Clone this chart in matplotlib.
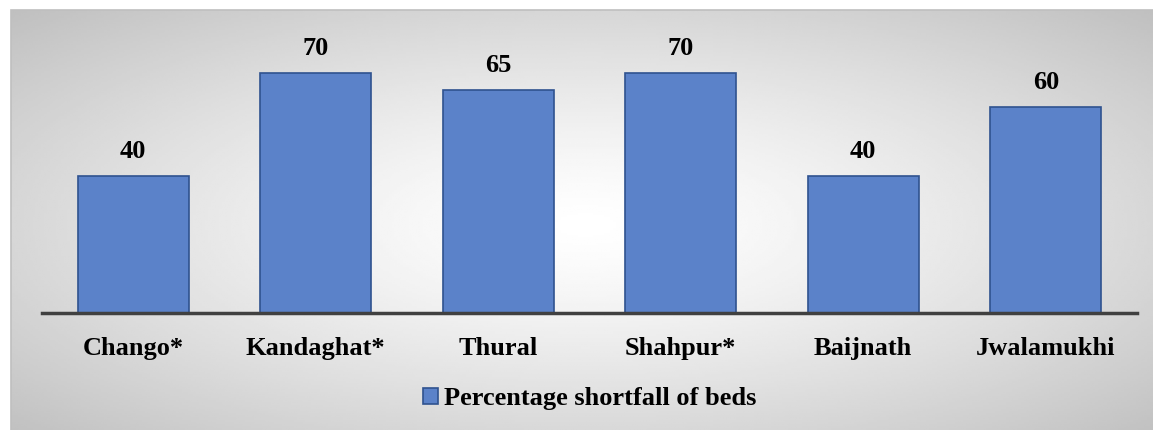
import matplotlib.pyplot as plt
import numpy as np
from matplotlib.patches import Rectangle

# data
categories = ["Chango*", "Kandaghat*", "Thural", "Shahpur*", "Baijnath", "Jwalamukhi"]
values = [40, 70, 65, 70, 40, 60]
series_name = "Percentage shortfall of beds"

plt.rcParams['font.family'] = ['Liberation Serif', 'DejaVu Serif']
plt.rcParams['font.weight'] = 'bold'

W, H = 1153, 430
fig = plt.figure(figsize=(W / 100, H / 100), dpi=100)

# radial gradient background; chart frame runs off the right and bottom edges
fx0, fy0, fx1, fy1 = 11, 10, 1160, 440
bg = fig.add_axes([fx0 / W, 1 - fy1 / H, (fx1 - fx0) / W, (fy1 - fy0) / H])
yy, xx = np.mgrid[-1:1:200j, -1:1:400j]
r = np.sqrt(xx ** 2 + yy ** 2) / np.sqrt(2)
grad = 1 - 0.25 * np.clip(r, 0, 1) ** 1.3
bg.imshow(grad, cmap='gray', vmin=0, vmax=1, aspect='auto', extent=[0, 1, 0, 1])
bg.set_axis_off()
fig.patches.append(Rectangle((fx0 / W, 1 - fy1 / H), (fx1 - fx0) / W, (fy1 - fy0) / H,
                             transform=fig.transFigure, fill=False,
                             edgecolor='#bfbfbf', linewidth=1.2))

# main axes
ax = fig.add_axes([42 / W, 117 / H, 1095 / W, 283 / H])
ax.patch.set_alpha(0)
x = np.arange(len(categories))
bars = ax.bar(x, values, width=0.608, color='#5b82c9', edgecolor='#2f528f',
              linewidth=1.2, label=series_name, zorder=2)
for b, v in zip(bars, values):
    ax.text(b.get_x() + b.get_width() / 2, v + 3.8, str(v), ha='center', va='bottom',
            fontsize=19, fontweight='bold', color='black')

ax.set_xlim(-0.5, len(categories) - 0.5)
ax.set_ylim(0, 82.5)
ax.set_xticks(x)
ax.set_xticklabels(categories, fontsize=19, fontweight='bold')
ax.tick_params(axis='x', length=0, pad=17)
ax.set_yticks([])
for s in ['top', 'right', 'left']:
    ax.spines[s].set_visible(False)
ax.spines['bottom'].set_color('#404040')
ax.spines['bottom'].set_linewidth(2.5)
ax.spines['bottom'].set_zorder(3)

leg = fig.legend(handles=[bars], labels=[series_name], loc='center',
                 bbox_to_anchor=(590 / W, 1 - 399 / H), frameon=False,
                 prop={'family': ['Liberation Serif'], 'weight': 'bold', 'size': 19},
                 handlelength=0.55, handleheight=0.55, handletextpad=0.25)

fig.savefig('out.png', dpi=100)
